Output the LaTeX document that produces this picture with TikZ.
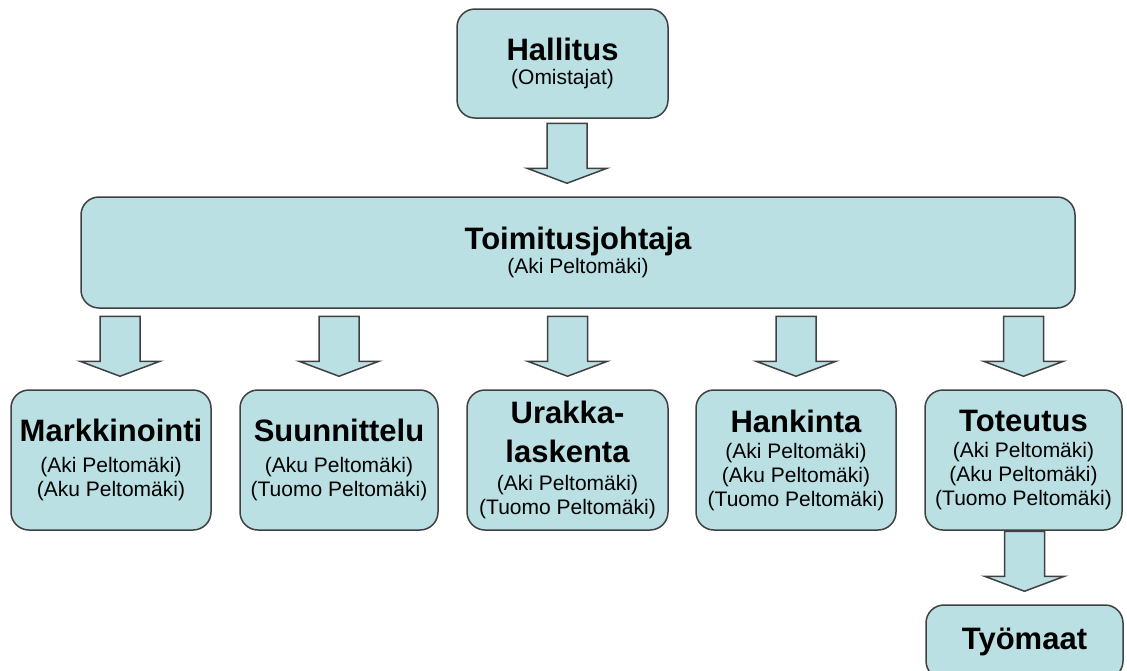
\documentclass[tikz,border=0pt]{standalone}
\usepackage{fontspec}
\setmainfont{Liberation Sans}
\usetikzlibrary{positioning}
\definecolor{orgFill}{RGB}{187,224,227}
\definecolor{orgLine}{RGB}{64,64,64}
\newcommand{\ttl}{\fontsize{31}{37}\selectfont\bfseries}
\newcommand{\nms}{\fontsize{21}{24}\selectfont\mdseries}

\begin{document}
\begin{tikzpicture}[x=1pt, y=-1pt,
  orgbox/.style={draw=orgLine, fill=orgFill, line width=1.5pt, rounded corners=18pt,
    inner sep=0pt, align=center, font=\nms},
  blockarrow/.style={draw=orgLine, fill=orgFill, line width=1.5pt}]
  \useasboundingbox (0,0) rectangle (1127,670);
  \clip (0,0) rectangle (1127,670);
  % top levels
  \node[orgbox, minimum width=211, minimum height=109] (hallitus) at (562.5,63.5)
    {\ttl Hallitus\\ \nms (Omistajat)};
  \node[orgbox, minimum width=994, minimum height=111] (toim) at (578,252.5)
    {\ttl Toimitusjohtaja\\ \nms (Aki Peltomäki)};
  % departments
  \node[orgbox, minimum width=200, minimum height=140] (markk) at (111,460)
    {\ttl Markkinointi\\[7pt] \nms (Aki Peltomäki)\\ (Aku Peltomäki)};
  \node[orgbox, minimum width=198, minimum height=140] (suunn) at (339,460)
    {\ttl Suunnittelu\\[7pt] \nms (Aku Peltomäki)\\ (Tuomo Peltomäki)};
  \node[orgbox, minimum width=201, minimum height=140] (urakka) at (567.5,460)
    {\ttl Urakka-\\[15pt] \ttl laskenta\\[4pt] \nms (Aki Peltomäki)\\ (Tuomo Peltomäki)};
  \node[orgbox, minimum width=200, minimum height=140] (hank) at (796,460)
    {\ttl Hankinta\\[2pt] \nms (Aki Peltomäki)\\ (Aku Peltomäki)\\ (Tuomo Peltomäki)};
  \node[orgbox, minimum width=197, minimum height=140] (totet) at (1023.5,460)
    {\ttl Toteutus\\[2pt] \nms (Aki Peltomäki)\\ (Aku Peltomäki)\\ (Tuomo Peltomäki)};
  \node[orgbox, minimum width=197, minimum height=74] (tyomaa) at (1024.5,642)
    {\ttl Työmaat};
  % block arrows into each box
  \foreach \n/\dx in {toim/-11, markk/9, suunn/0, urakka/0, hank/0, totet/0, tyomaa/0}
    \draw[blockarrow, shift={(\n.north)}, xshift=\dx]
      (-20,-73) -- (20,-73) -- (20,-28) -- (40,-28) -- (0,-13) -- (-40,-28) -- (-20,-28) -- cycle;
\end{tikzpicture}
\end{document}
